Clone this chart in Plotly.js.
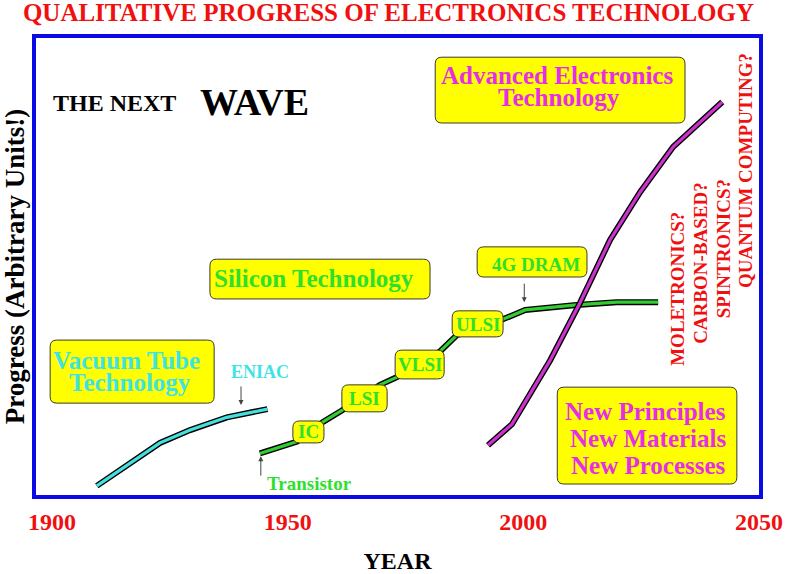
<!DOCTYPE html>
<html>
<head>
<meta charset="utf-8">
<script src="https://cdn.plot.ly/plotly-3.0.1.min.js"></script>
<style>html,body{margin:0;padding:0;background:#fff;}#chart{width:801px;height:574px;}</style>
</head>
<body>
<div id="chart"></div>
<script>
// ---- data ----
const vacuumYears    = [1909.5, 1922.9, 1929.3, 1937.1, 1945.7];
const vacuumProgress = [2.0, 11.4, 14.2, 17.0, 18.8];

const siliconYears    = [1944.1, 1952.0, 1957.5, 1961.5, 1969.6, 1973.2, 1982.3, 1985.9, 1995.8, 2000.4, 2011.3, 2019.8, 2028.6];
const siliconProgress = [9.1, 11.7, 16.0, 18.5, 24.1, 25.8, 31.4, 35.0, 38.5, 40.5, 41.6, 42.2, 42.2];

const advancedYears    = [1992.5, 1997.6, 2005.7, 2012.0, 2018.4, 2024.8, 2031.8, 2042.2];
const advancedProgress = [10.9, 15.5, 29.5, 42.0, 55.8, 66.3, 76.2, 86.0];

const milestoneNames    = ['IC', 'LSI', 'VLSI', 'ULSI'];
const milestoneYears    = [1954.5, 1966.3, 1978.0, 1990.3];
const milestoneProgress = [13.8, 21.1, 28.5, 37.4];

const tickYears  = [1900, 1950, 2000, 2050];
const tickLabels = ['1900', '1950', '2000', '2050'];

const futureTechs = ['MOLETRONICS?', 'CARBON-BASED?', 'SPINTRONICS?', 'QUANTUM COMPUTING?'];

// ---- styles ----
const SERIF = 'Liberation Serif, Times New Roman, serif';
const RED = '#f01010', GREEN = '#2ee02e', CYAN = '#3ee4e4', MAGENTA = '#e52ee5', YELLOW = '#ffff00';
const LINE_GREEN = '#33cc33', LINE_CYAN = '#44e0e0', LINE_MAGENTA = '#cc33cc';

function outlined(x, y, color) {
  return [
    {x: x, y: y, mode: 'lines', line: {color: '#000', width: 6}, hoverinfo: 'skip', showlegend: false},
    {x: x, y: y, mode: 'lines', line: {color: color, width: 3.2}, hoverinfo: 'skip', showlegend: false}
  ];
}

const traces = [].concat(
  outlined(vacuumYears, vacuumProgress, LINE_CYAN),
  outlined(siliconYears, siliconProgress, LINE_GREEN),
  outlined(advancedYears, advancedProgress, LINE_MAGENTA)
);

// rounded box in data coords
function rbox(x0, x1, y0, y1) {
  const rx = 1.4, ry = 1.45;
  const p = `M${x0 + rx},${y0} L${x1 - rx},${y0} Q${x1},${y0} ${x1},${y0 + ry} L${x1},${y1 - ry} Q${x1},${y1} ${x1 - rx},${y1} ` +
            `L${x0 + rx},${y1} Q${x0},${y1} ${x0},${y1 - ry} L${x0},${y0 + ry} Q${x0},${y0} ${x0 + rx},${y0} Z`;
  return {type: 'path', xref: 'x', yref: 'y', path: p, fillcolor: YELLOW, line: {color: '#3a3a2a', width: 1}, layer: 'above'};
}

const shapes = [
  rbox(1899.6, 1934.4, 20.1, 33.9),   // Vacuum Tube
  rbox(1951.1, 1957.7, 11.4, 16.2),   // IC
  rbox(1961.5, 1971.1, 18.2, 24.1),   // LSI
  rbox(1972.8, 1983.2, 25.4, 31.7),   // VLSI
  rbox(1984.9, 1995.7, 34.6, 40.3),   // ULSI
  rbox(1990.2, 2013.5, 47.7, 54.3),   // 4G DRAM
  rbox(1933.5, 1980.2, 42.9, 51.6),   // Silicon Technology
  rbox(1981.3, 2034.3, 81.4, 95.8),   // Advanced Electronics
  rbox(2007.2, 2045.3, 2.4, 23.6)     // New Principles
];

function txt(text, x, y, color, size, extra) {
  return Object.assign({
    text: text, x: x, y: y, xref: 'x', yref: 'y', showarrow: false,
    xanchor: 'center', yanchor: 'middle',
    font: {family: SERIF, size: size, color: color, weight: 'bold'}
  }, extra || {});
}
function arrow(x, y, ay) {
  return {text: '', x: x, y: y, xref: 'x', yref: 'y', showarrow: true, ax: 0, ay: ay,
          arrowhead: 2, arrowsize: 1, arrowwidth: 1, arrowcolor: '#444', standoff: 0};
}

const annotations = [
  txt('Vacuum Tube', 1915.9, 29.4, CYAN, 25),
  txt('Technology', 1916.5, 24.7, CYAN, 25),
  txt('ENIAC', 1944.1, 26.9, CYAN, 18),
  arrow(1940.1, 19.7, -20),
  txt('Transistor', 1954.7, 2.6, GREEN, 19),
  arrow(1944.3, 8.5, 21),
  txt('4G DRAM', 2002.6, 50.4, GREEN, 19),
  arrow(2000.2, 42.2, -20),
  txt('Silicon Technology', 1955.6, 47.3, GREEN, 25),
  txt('Advanced Electronics', 2007.2, 91.9, MAGENTA, 25),
  txt('Technology', 2007.6, 86.9, MAGENTA, 25),
  txt('New Principles', 2026.0, 18.2, MAGENTA, 25),
  txt('New Materials', 2026.4, 12.3, MAGENTA, 25),
  txt('New Processes', 2026.5, 6.5, MAGENTA, 25),
  txt('THE NEXT', 1913.2, 85.8, '#000', 24),
  txt('WAVE', 1943.0, 85.9, '#000', 38)
];

milestoneNames.forEach((n, i) => {
  annotations.push(txt(n, milestoneYears[i], milestoneProgress[i], GREEN, 19));
});

const rotX = [2032.8, 2037.6, 2042.4, 2047.0];
const rotY = [45.1, 50.7, 53.8, 71.1];
futureTechs.forEach((t, i) => {
  annotations.push(txt(t, rotX[i], rotY[i], RED, 19, {textangle: -90}));
});

const layout = {
  width: 801, height: 574,
  margin: {l: 36, r: 42, t: 38, b: 79},
  paper_bgcolor: '#fff', plot_bgcolor: '#fff',
  title: {text: 'QUALITATIVE PROGRESS OF ELECTRONICS TECHNOLOGY',
          font: {family: SERIF, size: 25, color: RED, weight: 'bold'},
          x: 0.485, xref: 'container', xanchor: 'center', y: 0.978, yref: 'container', yanchor: 'middle'},
  xaxis: {
    range: [1896.6, 2050], showgrid: false, zeroline: false,
    showline: true, mirror: true, linecolor: '#0a0ae6', linewidth: 4,
    ticks: '', tickvals: tickYears, ticktext: tickLabels, ticklabelstandoff: 2,
    tickfont: {family: SERIF, size: 24, color: RED, weight: 'bold'},
    title: {text: 'YEAR', font: {family: SERIF, size: 24, color: '#000', weight: 'bold'}, standoff: 25},
    fixedrange: true
  },
  yaxis: {
    range: [0, 100], showgrid: false, zeroline: false,
    showline: true, mirror: true, linecolor: '#0a0ae6', linewidth: 4,
    ticks: '', showticklabels: false,
    title: {text: 'Progress (Arbitrary Units!)', font: {family: SERIF, size: 27, color: '#000', weight: 'bold'}, standoff: 3},
    fixedrange: true
  },
  shapes: shapes,
  annotations: annotations,
  showlegend: false
};

Plotly.newPlot('chart', traces, layout, {staticPlot: true, displayModeBar: false});
</script>
</body>
</html>
